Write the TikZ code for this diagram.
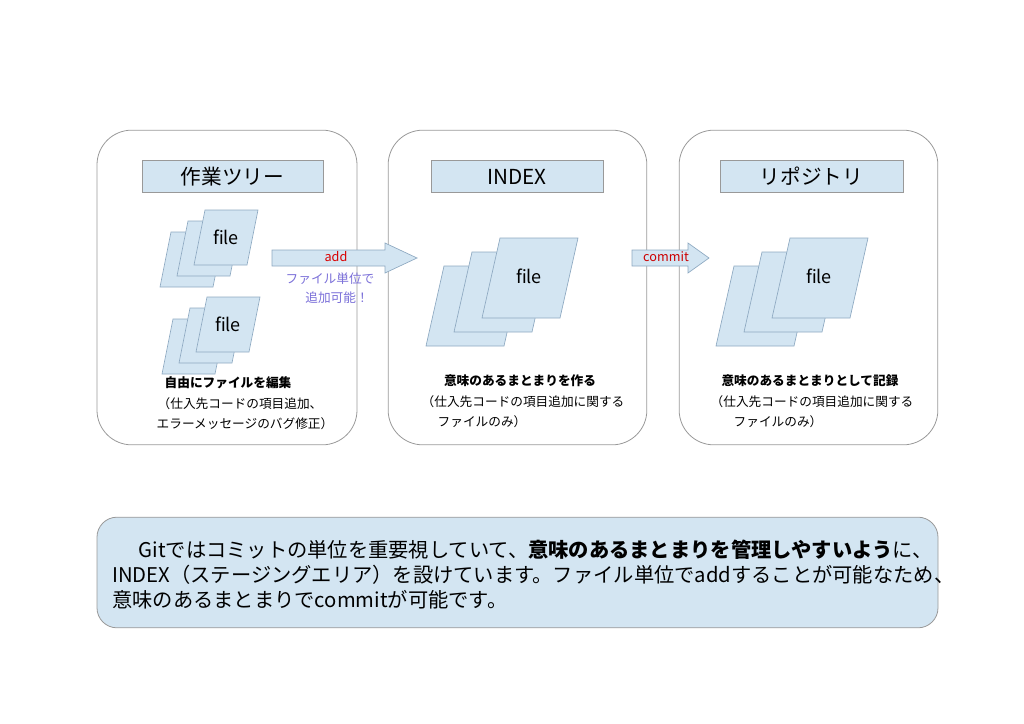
\documentclass[tikz,border=0pt]{standalone}
\usepackage{fontspec}
\setmainfont{Noto Sans CJK JP}
\definecolor{lb}{HTML}{D3E5F2}
\definecolor{bd}{HTML}{8EA9C1}
\definecolor{lav}{HTML}{7A6FD8}
\begin{document}
\begin{tikzpicture}[x=0.75pt,y=-0.75pt,
 panel/.style={draw=gray!80,rounded corners=26pt,line width=0.6pt},
 title/.style={draw=gray!80,fill=lb,minimum height=24pt,font=\fontsize{15.5}{15}\selectfont,inner sep=0},
 pg/.style={draw=bd,fill=lb,line width=0.5pt},
 small/.style={font=\fontsize{9.5}{11}\selectfont,inner sep=0},
 fl/.style={font=\fontsize{13.5}{14}\selectfont,inner sep=0}]
\useasboundingbox (0,0) rectangle (1024,724);
\node[panel,minimum width=195pt,minimum height=236pt] (p1) at (227,287.5) {};
\node[panel,minimum width=194pt,minimum height=236pt] (p2) at (517.5,287.5) {};
\node[panel,minimum width=194pt,minimum height=236pt] (p3) at (808.5,287.5) {};
\node[title,minimum width=136pt] (t1) at (232.5,176.5) {作業ツリー};
\node[title,minimum width=129pt] (t2) at (517,176.5) {INDEX};
\node[title,minimum width=137pt] (t3) at (811.5,176.5) {リポジトリ};
% small groups
\foreach \x/\y [count=\i] in {205/210,207/297}{
 \foreach \d in {2,1,0}{
  \draw[pg] ({\x-17*\d},{\y+11*\d}) -- ++(53,0) -- ++(-11,55) -- ++(-53,0) -- cycle;}
 \node[fl] (f\i) at ({\x+21},{\y+27}) {file};}
% big groups
\foreach \x [count=\i from 3] in {500,790}{
 \foreach \d in {2,1,0}{
  \draw[pg] ({\x-28*\d},{238+14*\d}) -- ++(78,0) -- ++(-18,80) -- ++(-78,0) -- cycle;}
 \node[fl] (f\i) at ({\x+29},276) {file};}
% arrows
\draw[pg] (272,250) -- (385,250) -- (385,243) -- (417,258) -- (385,273) -- (385,266) -- (272,266) -- cycle;
\draw[pg] (632,250) -- (688,250) -- (688,243) -- (709,258) -- (688,273) -- (688,266) -- (632,266) -- cycle;
\node[small,text=red!85!black] (l1) at (336,257) {add};
\node[small,text=red!80!black] (l2) at (666,257) {commit};
\node[small,text=lav] (l3) at (330,279) {ファイル単位で};
\node[small,text=lav] (l4) at (337,298) {追加可能！};
% captions
\node[small,font=\fontsize{9.5}{11}\bfseries] (c1) at (228,383) {自由にファイルを編集};
\node[small] (c2) at (240,404) {（仕入先コードの項目追加、};
\node[small] (c3) at (245,424) {エラーメッセージのバグ修正）};
\node[small,font=\fontsize{9.5}{11}\bfseries] (c4) at (520,381) {意味のあるまとまりを作る};
\node[small] (c5) at (523,402) {（仕入先コードの項目追加に関する};
\node[small] (c6) at (482,422) {ファイルのみ）};
\node[small,font=\fontsize{9.5}{11}\bfseries] (c7) at (810,381) {意味のあるまとまりとして記録};
\node[small] (c8) at (812,402) {（仕入先コードの項目追加に関する};
\node[small] (c9) at (778,422) {ファイルのみ）};
% bottom
\node[draw=gray!80,fill=lb,rounded corners=15pt,minimum width=630.75pt,minimum height=83pt,line width=0.6pt] (b) at (517.5,572.5) {};
\node[anchor=west,align=left,inner sep=0,font=\fontsize{15.2}{18.75}\selectfont] (bt) at (112,575) {\hspace{1.3em}Gitではコミットの単位を重要視していて、\textbf{意味のあるまとまりを管理しやすいよう}に、\\INDEX（ステージングエリア）を設けています。ファイル単位でaddすることが可能なため、\\意味のあるまとまりでcommitが可能です。};
\end{tikzpicture}
\end{document}
